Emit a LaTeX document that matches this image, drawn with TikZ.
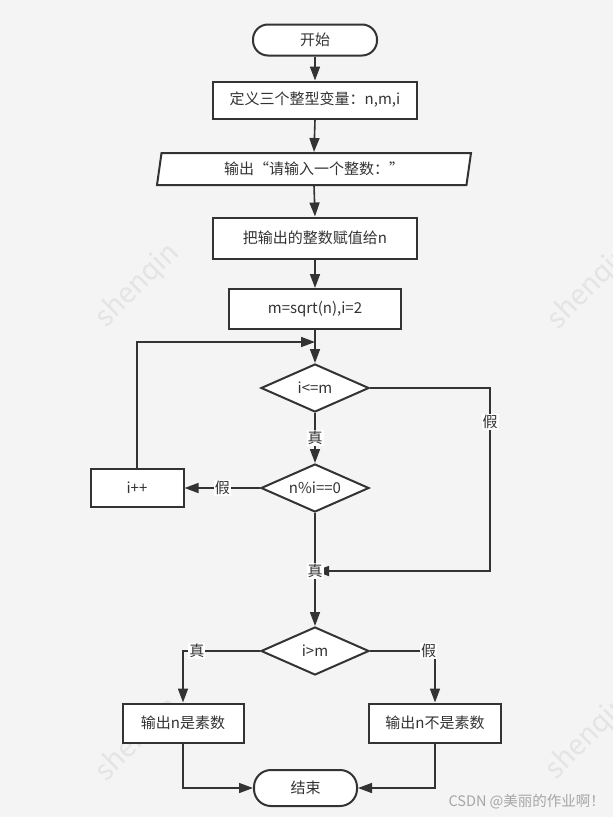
\documentclass[tikz,border=0pt]{standalone}
\usepackage{fontspec}
\setmainfont{Noto Sans CJK SC}
\usetikzlibrary{arrows.meta,shapes.geometric}
\definecolor{bg}{RGB}{244,244,244}
\definecolor{ink}{RGB}{51,51,51}
\definecolor{wm}{RGB}{228,228,228}

\begin{document}
\begin{tikzpicture}[x=1pt,y=-1pt,
  every node/.style={font=\fontsize{15}{17}\selectfont,text=ink},
  box/.style={draw=ink,fill=white,line width=2pt,inner sep=0pt},
  term/.style={box,rounded corners=15pt,minimum width=124pt,minimum height=31pt},
  io/.style={box,trapezium,trapezium left angle=72,trapezium right angle=108,
    trapezium stretches body,minimum width=314pt,minimum height=32pt},
  cond/.style={box,diamond,aspect=2.3,minimum width=108pt,minimum height=48pt},
  flow/.style={draw=ink,line width=1.6pt,-{Triangle[length=14pt,width=10pt]}},
  lbl/.style={fill=white,inner sep=1pt},
  wmark/.style={text=wm,font=\fontsize{28}{30}\selectfont,rotate=45,anchor=west}]

  % background and watermark
  \fill[bg] (0,0) rectangle (613,817);
  \useasboundingbox (0,0) rectangle (613,817);
  \begin{scope}
    \clip (0,0) rectangle (613,817);
    \node[wmark] (wm1) at (98,325) {shenqin};
    \node[wmark] (wm2) at (550,327) {shenqin};
    \node[wmark] (wm3) at (98,779) {shenqin};
    \node[wmark] (wm4) at (548,777) {shenqin};
  \end{scope}

  % steps
  \node[term] (start) at (315,40) {开始};
  \node[box,minimum width=204pt,minimum height=37pt] (decl) at (315,100) {定义三个整型变量：n,m,i};
  \node[io] (in) at (314,169) {输出“请输入一个整数：”};
  \node[box,minimum width=204pt,minimum height=41pt] (assign) at (315,238) {把输出的整数赋值给n};
  \node[box,minimum width=172pt,minimum height=40pt] (init) at (315,309) {m=sqrt(n),i=2};
  \node[cond] (le) at (315,388) {i<=m};
  \node[cond] (mod) at (315,488) {n\%i==0};
  \node[box,minimum width=93pt,minimum height=38pt] (inc) at (137,488) {i++};
  \node[cond] (gt) at (315,651) {i>m};
  \node[box,minimum width=121pt,minimum height=39pt] (yes) at (183,723) {输出n是素数};
  \node[box,minimum width=132pt,minimum height=39pt] (no) at (435,723) {输出n不是素数};
  \node[term,minimum width=103pt,minimum height=36pt,rounded corners=17pt] (stop) at (305.5,788) {结束};

  \coordinate (back) at (315,342);
  \coordinate (corner) at (490,571);
  \coordinate (merge) at (315,571);

  % connectors
  \draw[flow] (start.south) -- (decl.north);
  \draw[flow] (decl.south) -- (in.north);
  \draw[flow] (in.south) -- (assign.north);
  \draw[flow] (assign.south) -- (init.north);
  \draw[flow] (init.south) -- (le.north);
  \draw[flow] (inc.north) |- (back);
  \draw[flow] (le.south) -- node[lbl] (t1) {真} (mod.north);
  \draw[flow] (mod.west) -- node[lbl] (f2) {假} (inc.east);
  \draw[flow] (le.east) -| (corner) -- (merge);
  \node[lbl] (f1) at (490,422) {假};
  \draw[flow] (mod.south) -- (gt.north);
  \node[lbl] (t2) at (merge) {真};
  \draw[flow] (gt.west) -| node[lbl,pos=0.41] (t3) {真} (yes.north);
  \draw[flow] (gt.east) -| node[lbl,pos=0.45] (f3) {假} (no.north);
  \draw[flow] (yes.south) |- (stop.west);
  \draw[flow] (no.south) |- (stop.east);

  \node[anchor=base west,text=gray!70,font=\fontsize{14.5}{16}\selectfont] (csdn) at (445,806) {CSDN @美丽的作业啊！};
\end{tikzpicture}
\end{document}
